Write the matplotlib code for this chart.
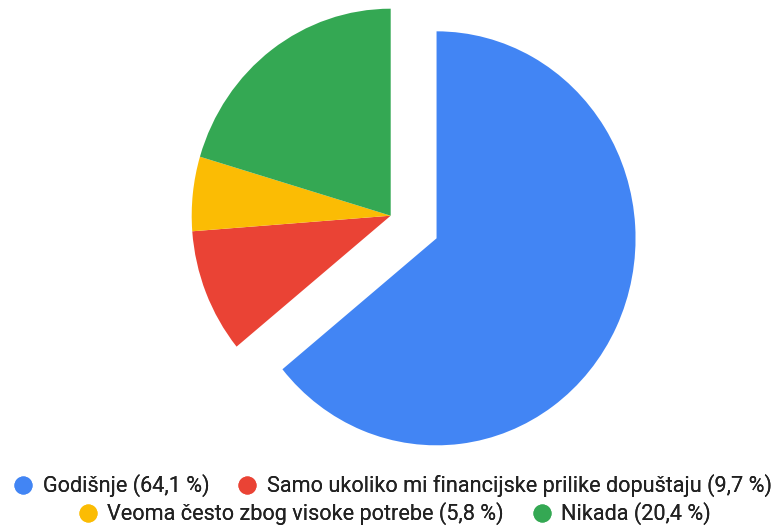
import matplotlib.pyplot as plt
from matplotlib.lines import Line2D

# ── data ─────────────────────────────────────────────────────────────
labels = ["Godišnje", "Samo ukoliko mi financijske prilike dopuštaju",
          "Veoma često zbog visoke potrebe", "Nikada"]
shares = [64.1, 9.7, 5.8, 20.4]
colors = ["#4285F4", "#EA4335", "#FBBC04", "#34A853"]
explode = [0.255, 0, 0, 0]

plt.rcParams["font.family"] = ["Roboto", "DejaVu Sans"]

W, H = 774, 529
fig = plt.figure(figsize=(W / 100, H / 100), dpi=100)

# pie centre / radii in pixels (reference is slightly stretched vertically)
cx, cy = 390.7, H - 215.7
rx, ry = 199, 207
x0, x1 = -1.3, 1.3
y0, y1 = -1.3, 1.02
ax = fig.add_axes([(cx + x0 * rx) / W, (cy + y0 * ry) / H,
                   (x1 - x0) * rx / W, (y1 - y0) * ry / H])
ax.pie(shares, colors=colors, explode=explode, startangle=90,
       counterclock=False, wedgeprops=dict(linewidth=0))
ax.set_aspect("auto")
ax.set_xlim(x0, x1)
ax.set_ylim(y0, y1)
ax.axis("off")

# ── legend: two centred rows ─────────────────────────────────────────
def handle(c):
    return Line2D([], [], marker="o", linestyle="", markersize=12,
                  markerfacecolor=c, markeredgecolor=c)

rows = [([0, 1], 392, 486), ([2, 3], 394, 514)]
for idx, xpix, ypix in rows:
    leg = fig.legend([handle(colors[i]) for i in idx],
                     [f"{labels[i]} ({shares[i]:.1f} %)".replace(".", ",")
                      for i in idx],
                     loc="center", bbox_to_anchor=(xpix / W, 1 - ypix / H),
                     ncol=2, frameon=False, fontsize=15.6,
                     handlelength=1.0, handletextpad=0.4,
                     columnspacing=1.25, borderpad=0, borderaxespad=0)
    for t in leg.get_texts():
        t.set_color("#222222")
    fig.add_artist(leg)

fig.savefig("out.png", dpi=100)
